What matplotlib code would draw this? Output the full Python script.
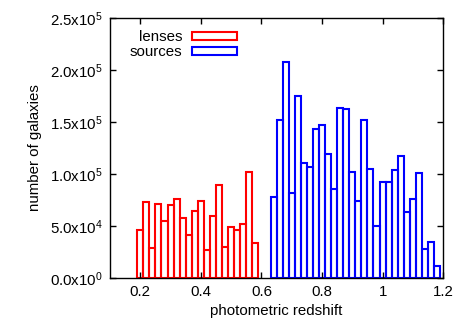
import matplotlib
matplotlib.use("Agg")
import matplotlib.pyplot as plt
from matplotlib.patches import Patch
from matplotlib.ticker import FixedLocator, FuncFormatter

plt.rcParams['font.family'] = ['Liberation Sans', 'DejaVu Sans']
plt.rcParams['mathtext.fontset'] = 'custom'
plt.rcParams['mathtext.rm'] = 'Liberation Sans'
plt.rcParams['mathtext.default'] = 'regular'

# bin centres and counts
lens_z = [0.20, 0.22, 0.24, 0.26, 0.28, 0.30, 0.32, 0.34, 0.36, 0.38,
          0.40, 0.42, 0.44, 0.46, 0.48, 0.50, 0.52, 0.54, 0.56, 0.58]
lens_n = [45800, 73100, 29200, 71500, 54500, 70500, 76300, 57400, 41700, 64100,
          74400, 27200, 59900, 89700, 29800, 49000, 46500, 51600, 102200, 33700]
src_z = [0.64, 0.66, 0.68, 0.70, 0.72, 0.74, 0.76, 0.78, 0.80, 0.82,
         0.84, 0.86, 0.88, 0.90, 0.92, 0.94, 0.96, 0.98, 1.00, 1.02,
         1.04, 1.06, 1.08, 1.10, 1.12, 1.14, 1.16, 1.18]
src_n = [77700, 151600, 208000, 81900, 174700, 110800, 106900, 142900, 147000, 119500,
         85100, 163500, 162800, 102100, 73900, 151600, 104700, 50400, 92200, 92200,
         103400, 117500, 63300, 75500, 101200, 27900, 34700, 11900]
y_ticks = [0, 50000, 100000, 150000, 200000, 250000]
x_ticks = [0.2, 0.4, 0.6, 0.8, 1.0, 1.2]

fs = 10.8

fig = plt.figure(figsize=(4.66, 3.27), dpi=100)
ax = fig.add_axes([0.236, 0.150, 0.715, 0.795])

ax.bar(lens_z, lens_n, width=0.02, fill=False, edgecolor='red', linewidth=1.5)
ax.bar(src_z, src_n, width=0.02, fill=False, edgecolor='blue', linewidth=1.5)

ax.set_xlim(0.1, 1.2)
ax.set_ylim(0, 250000)


def sci(v, pos):
    if v == 0:
        return '0.0x10$^{0}$'
    e = len(str(int(v))) - 1
    return '%.1fx10$^{%d}$' % (v / 10 ** e, e)


ax.yaxis.set_major_locator(FixedLocator(y_ticks))
ax.yaxis.set_major_formatter(FuncFormatter(sci))
ax.xaxis.set_major_locator(FixedLocator(x_ticks))
ax.xaxis.set_major_formatter(FuncFormatter(lambda v, p: '%g' % v))
ax.tick_params(direction='in', top=True, right=True, length=4, width=1,
               labelsize=fs, pad=5)
for s in ax.spines.values():
    s.set_linewidth(1)

ax.set_xlabel('photometric redshift', fontsize=fs, labelpad=4)
ax.set_ylabel('number of galaxies', fontsize=fs, labelpad=6)

handles = [Patch(facecolor='none', edgecolor='red', linewidth=1.5, label='lenses'),
           Patch(facecolor='none', edgecolor='blue', linewidth=1.5, label='sources')]
ax.legend(handles=handles, loc='upper left', bbox_to_anchor=(0.024, 1.0),
          frameon=False, markerfirst=False, fontsize=fs, handlelength=3.0,
          handleheight=0.45, labelspacing=0.1, handletextpad=0.6, borderpad=0.3)

fig.savefig('out.png', dpi=100)
